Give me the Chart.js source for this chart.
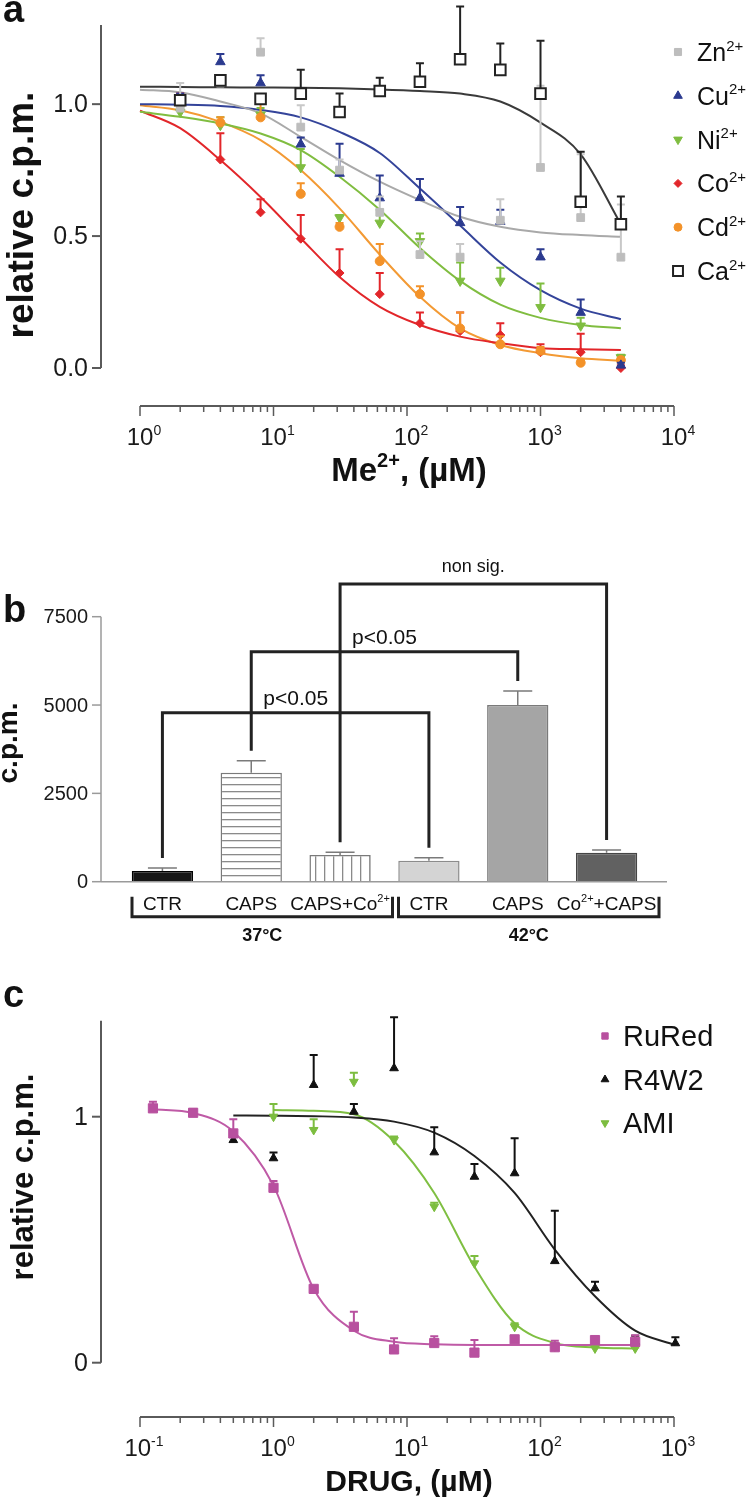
<!DOCTYPE html>
<html>
<head>
<meta charset="utf-8">
<script src="https://cdn.jsdelivr.net/npm/chart.js@4.4.1/dist/chart.umd.min.js"></script>
<style>
  body { margin: 0; background: #fff; }
  #wrap { position: relative; width: 756px; height: 1497px; }
  #wrap canvas { position: absolute; left: 0; top: 0; }
</style>
</head>
<body>
<div id="wrap">
  <canvas id="chartA" width="756" height="1497"></canvas>
  <canvas id="chartB" width="756" height="1497"></canvas>
  <canvas id="chartC" width="756" height="1497"></canvas>
</div>
<script>
// three panels: a) metal ion dose-response, b) c.p.m. bars, c) drug dose-response

const FONT = '"Liberation Sans", Arial, Helvetica, sans-serif';
const H = 1497;

// ---- panel a data ----
const doseA = [2, 4, 8, 16, 31.25, 62.5, 125, 250, 500, 1000, 2000, 4000];
const fitDoseA = [1, 2, 4, 8, 16, 31.25, 62.5, 125, 250, 500, 1000, 2000, 4000];
const xExpA = [0, 1, 2, 3, 4];
const yTicksA = [0, 0.5, 1];
const yLabelsA = ['0.0', '0.5', '1.0'];

const znVals = [0.985, 1.08, 1.197, 0.913, 0.75, 0.59, 0.43, 0.42, 0.56, 0.76, 0.57, 0.42];
const znErr  = [1.08, 1.09, 1.25, 0.996, 0.79, 0.65, 0.48, 0.47, 0.64, 1.07, 0.81, 0.62];
const cuVals = [1.01, 1.16, 1.08, 0.848, 0.737, 0.644, 0.645, 0.55, 0.555, 0.42, 0.21, 0.01];
const cuErr  = [1.04, 1.19, 1.11, 0.874, 0.85, 0.73, 0.716, 0.61, 0.60, 0.45, 0.26, 0.02];
const niVals = [0.97, 0.92, 0.96, 0.76, 0.57, 0.55, 0.48, 0.33, 0.33, 0.23, 0.16, 0.04];
const niErr  = [0.99, 0.95, 0.985, 0.83, 0.58, 0.6, 0.51, 0.40, 0.38, 0.32, 0.19, 0.05];
const coVals = [1.0, 0.79, 0.59, 0.49, 0.36, 0.28, 0.17, 0.14, 0.125, 0.06, 0.06, 0.0];
const coErr  = [1.04, 0.89, 0.64, 0.58, 0.45, 0.36, 0.21, 0.21, 0.17, 0.09, 0.13, 0.01];
const cdVals = [1.0, 0.93, 0.95, 0.66, 0.535, 0.405, 0.28, 0.15, 0.09, 0.065, 0.02, 0.03];
const cdErr  = [1.02, 0.95, 1.01, 0.70, 0.55, 0.47, 0.31, 0.21, 0.12, 0.08, 0.03, 0.04];
const caVals = [1.015, 1.09, 1.02, 1.04, 0.97, 1.05, 1.085, 1.17, 1.13, 1.04, 0.63, 0.545];
const caErr  = [1.03, 1.10, 1.03, 1.13, 1.04, 1.10, 1.155, 1.37, 1.23, 1.24, 0.82, 0.65];

const znFit = [1.055, 1.045, 1.01, 0.965, 0.876, 0.788, 0.706, 0.636, 0.573, 0.535, 0.514, 0.504, 0.497];
const cuFit = [1.0, 0.998, 0.993, 0.978, 0.95, 0.895, 0.815, 0.68, 0.54, 0.40, 0.295, 0.225, 0.185];
const niFit = [0.971, 0.952, 0.927, 0.889, 0.826, 0.725, 0.6, 0.455, 0.33, 0.24, 0.19, 0.163, 0.151];
const coFit = [0.975, 0.909, 0.788, 0.648, 0.492, 0.345, 0.232, 0.163, 0.119, 0.094, 0.075, 0.071, 0.068];
const cdFit = [0.996, 0.977, 0.933, 0.864, 0.75, 0.605, 0.43, 0.27, 0.15, 0.087, 0.056, 0.037, 0.028];
const caFit = [1.066, 1.065, 1.064, 1.063, 1.062, 1.06, 1.056, 1.05, 1.04, 1.01, 0.93, 0.81, 0.545];

const ionNames = ['Zn{2+}', 'Cu{2+}', 'Ni{2+}', 'Co{2+}', 'Cd{2+}', 'Ca{2+}'];

// ---- panel b data ----
const barLabels = ['CTR', 'CAPS', 'CAPS+Co{2+}', 'CTR', 'CAPS', 'Co{2+}+CAPS'];
const cpmMeans = [303, 3085, 755, 595, 5000, 822];
const cpmErr = [388, 3425, 832, 680, 5397, 897];
const yTicksB = [0, 2500, 5000, 7500];
const tempGroups = [['37°C', 0, 2], ['42°C', 3, 5]];
const comparisons = [[0, 3, 4784, 'p<0.05'], [1, 4, 6510, 'p<0.05'], [2, 5, 8426, 'non sig.']];

// ---- panel c data ----
const doseC = [0.125, 0.25, 0.5, 1, 2, 4, 8, 16, 32, 64, 128, 256, 512, 1024];
const xExpC = [-1, 0, 1, 2, 3];
const yTicksC = [0, 1];
const yLabelsC = ['0', '1'];

const ruredVals = [1.034, 1.016, 0.932, 0.711, 0.30, 0.146, 0.054, 0.08, 0.041, 0.095, 0.063, 0.092, 0.085, null];
const ruredErr  = [1.061, 1.03, 0.99, 0.739, 0.31, 0.207, 0.099, 0.108, 0.092, 0.105, 0.089, 0.10, 0.112, null];
const r4w2Vals  = [null, null, 0.905, 0.831, 1.129, 1.02, 1.197, 0.855, 0.756, 0.77, 0.413, 0.302, 0.085, 0.079];
const r4w2Err   = [null, null, 0.92, 0.854, 1.251, 1.052, 1.404, 0.957, 0.808, 0.912, 0.618, 0.329, 0.11, 0.103];
const amiVals   = [null, null, null, 1.0, 0.946, 1.142, 0.905, 0.634, 0.404, 0.146, 0.065, 0.058, 0.058, null];
const amiErr    = [null, null, null, 1.052, 0.99, 1.179, 0.92, 0.65, 0.434, 0.16, 0.07, 0.065, 0.062, null];

const ruredFitDose = [0.125, 0.25, 0.5, 1, 2, 4, 8, 16, 32, 64, 128, 256, 512];
const ruredFit = [1.03, 1.015, 0.94, 0.72, 0.30, 0.13, 0.085, 0.075, 0.072, 0.072, 0.072, 0.072, 0.072];
const r4w2FitDose = [0.5, 1, 2, 4, 8, 16, 32, 64, 128, 256, 512, 1024];
const r4w2Fit = [1.005, 1.004, 1.002, 0.997, 0.98, 0.935, 0.84, 0.69, 0.46, 0.27, 0.13, 0.072];
const amiFitDose = [1, 2, 4, 8, 16, 32, 64, 128, 256, 512];
const amiFit = [1.027, 1.024, 1.01, 0.9, 0.69, 0.39, 0.16, 0.08, 0.062, 0.058];

const drugNames = ['RuRed', 'R4W2', 'AMI'];

// ---- helpers ----
function setFont(ctx, size, bold) {
    ctx.font = (bold ? 'bold ' : '') + size + 'px ' + FONT;
}

// text with {superscript} parts
function drawRich(ctx, str, x, y, size, bold, align) {
    const parts = str.split(/\{([^}]*)\}/);
    const supSize = Math.round(size * 0.6);
    let w = 0;
    parts.forEach((p, i) => { setFont(ctx, i % 2 ? supSize : size, bold); w += ctx.measureText(p).width; });
    let cx = align === 'center' ? x - w / 2 : (align === 'right' ? x - w : x);
    ctx.textAlign = 'left';
    ctx.textBaseline = 'alphabetic';
    parts.forEach((p, i) => {
        const sup = i % 2 === 1;
        setFont(ctx, sup ? supSize : size, bold);
        ctx.fillText(p, cx, sup ? y - size * 0.42 : y);
        cx += ctx.measureText(p).width;
    });
}

function drawRotated(ctx, text, x, y, size) {
    ctx.save();
    ctx.translate(x, y);
    ctx.rotate(-Math.PI / 2);
    setFont(ctx, size, true);
    ctx.textAlign = 'center';
    ctx.textBaseline = 'alphabetic';
    ctx.fillText(text, 0, 0);
    ctx.restore();
}

function line(ctx, x1, y1, x2, y2) {
    ctx.beginPath();
    ctx.moveTo(x1, y1);
    ctx.lineTo(x2, y2);
    ctx.stroke();
}

function drawYAxis(chart, xPix, vmin, vmax, ticks, labels, size, color, width) {
    const ctx = chart.ctx, ys = chart.scales.y;
    ctx.save();
    ctx.strokeStyle = color;
    ctx.lineWidth = width;
    line(ctx, xPix, ys.getPixelForValue(vmin), xPix, ys.getPixelForValue(vmax));
    ctx.fillStyle = '#1a1a1a';
    setFont(ctx, size, false);
    ctx.textAlign = 'right';
    ctx.textBaseline = 'middle';
    ticks.forEach((t, i) => {
        const py = ys.getPixelForValue(t);
        line(ctx, xPix - 9, py, xPix, py);
        ctx.fillText(labels[i], xPix - 13, py + 1);
    });
    ctx.restore();
}

function drawLogAxis(chart, yPix, exps, size) {
    const ctx = chart.ctx, xs = chart.scales.x;
    const lo = exps[0], hi = exps[exps.length - 1];
    ctx.save();
    ctx.strokeStyle = '#5a5a5a';
    ctx.lineWidth = 2;
    line(ctx, xs.getPixelForValue(Math.pow(10, lo)), yPix, xs.getPixelForValue(Math.pow(10, hi)), yPix);
    ctx.lineWidth = 1.5;
    for (let e = lo; e < hi; e++) {
        for (let k = 2; k <= 9; k++) {
            const px = xs.getPixelForValue(k * Math.pow(10, e));
            line(ctx, px, yPix, px, yPix + 6);
        }
    }
    ctx.fillStyle = '#1a1a1a';
    exps.forEach(e => {
        const px = xs.getPixelForValue(Math.pow(10, e));
        line(ctx, px, yPix, px, yPix + 10);
        drawRich(ctx, '10{' + e + '}', px + 4, yPix + 39, size, false, 'center');
    });
    ctx.restore();
}

function legendMarker(ctx, s, x, y, r) {
    ctx.save();
    ctx.fillStyle = s.fill || s.color;
    ctx.strokeStyle = s.color;
    const opts = { pointStyle: s.shape, radius: r, rotation: s.rot || 0, borderWidth: s.fill ? 2 : 1 };
    ctx.lineWidth = opts.borderWidth;
    if (Chart.helpers && Chart.helpers.drawPoint) {
        Chart.helpers.drawPoint(ctx, opts, x, y);
    } else {
        ctx.fillRect(x - r * 0.7, y - r * 0.7, r * 1.4, r * 1.4);
    }
    ctx.restore();
}

// upper error bars, drawn under the markers
const errorBars = {
    id: 'errorBars',
    beforeDatasetDraw(chart, args) {
        const ds = chart.data.datasets[args.index];
        if (!ds.errTop) return;
        const ctx = chart.ctx, ys = chart.scales.y;
        const cap = ds.errCap || 4;
        ctx.save();
        ctx.strokeStyle = ds.errColor;
        ctx.lineWidth = ds.errWidth || 2;
        args.meta.data.forEach((el, i) => {
            const d = ds.data[i];
            const v = (d !== null && typeof d === 'object') ? d.y : d;
            const top = ds.errTop[i];
            if (v == null || top == null) return;
            const yTop = ys.getPixelForValue(top);
            const yBase = ys.getPixelForValue(v);
            ctx.beginPath();
            ctx.moveTo(el.x, yBase);
            ctx.lineTo(el.x, yTop);
            ctx.moveTo(el.x - cap, yTop);
            ctx.lineTo(el.x + cap, yTop);
            ctx.stroke();
        });
        ctx.restore();
    }
};

function xy(xs, ys) {
    return xs.map((x, i) => ({ x: x, y: ys[i] }));
}

// ================= panel a =================
const ionStyles = [
    { color: '#bdbdbd', err: '#c8c8c8', line: '#a9a9a9', shape: 'rect', r: 5.5, order: 1 },
    { color: '#2b3a8f', err: '#2b3a8f', line: '#34449a', shape: 'triangle', r: 5.5, order: 2 },
    { color: '#7fbd40', err: '#7fbd40', line: '#80bd40', shape: 'triangle', r: 5.5, rot: 180, order: 5 },
    { color: '#e2262a', err: '#e2262a', line: '#e2262a', shape: 'rectRot', r: 4.5, order: 4 },
    { color: '#f39229', err: '#f39229', line: '#f39a34', shape: 'circle', r: 4.5, order: 3 },
    { color: '#222222', err: '#222222', line: '#3a3a3a', shape: 'rect', r: 7.5, order: 0, fill: '#ffffff' }
];
const ionVals = [znVals, cuVals, niVals, coVals, cdVals, caVals];
const ionErrs = [znErr, cuErr, niErr, coErr, cdErr, caErr];
const ionFits = [znFit, cuFit, niFit, coFit, cdFit, caFit];

const datasetsA = [];
ionNames.forEach((name, i) => {
    const s = ionStyles[i];
    datasetsA.push({
        type: 'line', data: xy(fitDoseA, ionFits[i]),
        borderColor: s.line, borderWidth: 2, pointRadius: 0,
        cubicInterpolationMode: 'monotone', fill: false, clip: false, order: 10 + i
    });
    datasetsA.push({
        type: 'scatter', data: xy(doseA, ionVals[i]),
        errTop: ionErrs[i], errColor: s.err, errWidth: 2,
        pointStyle: s.shape, pointRadius: s.r, pointRotation: s.rot || 0,
        backgroundColor: s.fill || s.color, borderColor: s.color,
        borderWidth: s.fill ? 2 : 1, clip: false, order: s.order
    });
});

const panelA = {
    id: 'panelA',
    afterDraw(chart) {
        const ctx = chart.ctx;
        drawYAxis(chart, 101, 0, 1.3, yTicksA, yLabelsA, 25, '#5a5a5a', 2);
        drawLogAxis(chart, 406, xExpA, 24);
        ctx.save();
        ctx.fillStyle = '#111';
        drawRich(ctx, 'Me{2+}, (µM)', 409, 481, 33, true, 'center');
        drawRotated(ctx, 'relative c.p.m.', 33, 215, 37);
        setFont(ctx, 38, true);
        ctx.textAlign = 'left';
        ctx.fillText('a', 3, 22);
        ionNames.forEach((name, i) => {
            const y = 52 + i * 43.8;
            legendMarker(ctx, ionStyles[i], 678, y, ionStyles[i].r - 0.5);
            ctx.fillStyle = '#111';
            drawRich(ctx, name, 697, y + 9, 25, false, 'left');
        });
        ctx.restore();
    }
};

new Chart(document.getElementById('chartA'), {
    type: 'scatter',
    data: { datasets: datasetsA },
    options: {
        responsive: false,
        animation: false,
        events: [],
        layout: { padding: { left: 140, right: 82, top: 25, bottom: H - 368 } },
        scales: {
            x: { type: 'logarithmic', min: 1, max: 10000, display: false },
            y: { type: 'linear', min: 0, max: 1.3, display: false }
        },
        plugins: { legend: { display: false }, tooltip: { enabled: false } }
    },
    plugins: [errorBars, panelA]
});

// ================= panel b =================
function stripes(vertical, step) {
    const c = document.createElement('canvas');
    c.width = vertical ? step : 4;
    c.height = vertical ? 4 : step;
    const g = c.getContext('2d');
    g.fillStyle = '#ffffff';
    g.fillRect(0, 0, c.width, c.height);
    g.fillStyle = '#8a8a8a';
    if (vertical) g.fillRect(0, 0, 1.3, c.height);
    else g.fillRect(0, 0, c.width, 1.3);
    return document.createElement('canvas').getContext('2d').createPattern(c, 'repeat');
}

const barFills = ['#171717', stripes(false, 7.3), stripes(true, 9), '#d4d4d4', '#a5a5a5', '#616161'];
const barEdges = ['#000000', '#7a7a7a', '#7a7a7a', '#8c8c8c', '#7a7a7a', '#454545'];

const panelB = {
    id: 'panelB',
    afterDraw(chart) {
        const ctx = chart.ctx, xs = chart.scales.x, ys = chart.scales.y;
        const area = chart.chartArea;
        const catW = (area.right - area.left) / barLabels.length;
        const y0 = ys.getPixelForValue(0);
        ctx.save();
        drawYAxis(chart, 101, 0, 7500, yTicksB, yTicksB.map(String), 20, '#9a9a9a', 1.5);
        ctx.strokeStyle = '#9a9a9a';
        ctx.lineWidth = 1.5;
        line(ctx, 101, y0, area.right + 16, y0);

        ctx.fillStyle = '#111';
        barLabels.forEach((lab, i) => {
            drawRich(ctx, lab, xs.getPixelForValue(i), y0 + 28, 19, false, 'center');
        });

        // temperature groups
        ctx.strokeStyle = '#222';
        ctx.lineWidth = 3;
        tempGroups.forEach(([lab, a, b]) => {
            const left = xs.getPixelForValue(a) - catW / 2 + 14;
            const right = xs.getPixelForValue(b) + catW / 2 + 8;
            const yb = y0 + 35;
            ctx.beginPath();
            ctx.moveTo(left, y0 + 15);
            ctx.lineTo(left, yb);
            ctx.lineTo(right, yb);
            ctx.lineTo(right, y0 + 15);
            ctx.stroke();
            drawRich(ctx, lab, (left + right) / 2, y0 + 59, 18, true, 'center');
        });

        // significance brackets
        ctx.lineJoin = 'miter';
        comparisons.forEach(([a, b, level, lab]) => {
            const xa = xs.getPixelForValue(a), xb = xs.getPixelForValue(b);
            const yl = ys.getPixelForValue(level);
            ctx.beginPath();
            ctx.moveTo(xa, ys.getPixelForValue(cpmErr[a]) - 10);
            ctx.lineTo(xa, yl);
            ctx.lineTo(xb, yl);
            ctx.lineTo(xb, ys.getPixelForValue(cpmErr[b]) - 10);
            ctx.stroke();
            drawRich(ctx, lab, (xa + xb) / 2, yl - (lab === 'non sig.' ? 12 : 8), lab === 'non sig.' ? 18 : 21, false, 'center');
        });

        drawRotated(ctx, 'c.p.m.', 17, 743, 28);
        setFont(ctx, 38, true);
        ctx.textAlign = 'left';
        ctx.fillText('b', 3, 622);
        ctx.restore();
    }
};

new Chart(document.getElementById('chartB'), {
    type: 'bar',
    data: {
        labels: barLabels,
        datasets: [{
            data: cpmMeans,
            backgroundColor: barFills,
            borderColor: barEdges,
            borderWidth: 1.5,
            barPercentage: 0.69,
            categoryPercentage: 1,
            errTop: cpmErr, errColor: '#7a7a7a', errWidth: 1.5, errCap: 14.5
        }]
    },
    options: {
        responsive: false,
        animation: false,
        events: [],
        layout: { padding: { left: 118, right: 105, top: 616.7, bottom: H - 881.7 } },
        scales: {
            x: { display: false },
            y: { min: 0, max: 7500, display: false }
        },
        plugins: { legend: { display: false }, tooltip: { enabled: false } }
    },
    plugins: [errorBars, panelB]
});

// ================= panel c =================
const drugStyles = [
    { color: '#b8509f', line: '#bf5aa6', shape: 'rect', r: 6.5, order: 0 },
    { color: '#111111', line: '#222222', shape: 'triangle', r: 5, order: 1 },
    { color: '#7cbd3f', line: '#7fbf42', shape: 'triangle', r: 5, rot: 180, order: 2 }
];
const drugVals = [ruredVals, r4w2Vals, amiVals];
const drugErrs = [ruredErr, r4w2Err, amiErr];
const drugFits = [xy(ruredFitDose, ruredFit), xy(r4w2FitDose, r4w2Fit), xy(amiFitDose, amiFit)];

const datasetsC = [];
drugNames.forEach((name, i) => {
    const s = drugStyles[i];
    datasetsC.push({
        type: 'line', data: drugFits[i],
        borderColor: s.line, borderWidth: 2, pointRadius: 0,
        cubicInterpolationMode: 'monotone', fill: false, clip: false, order: 10 + i
    });
    datasetsC.push({
        type: 'scatter', data: xy(doseC, drugVals[i]),
        errTop: drugErrs[i], errColor: s.color, errWidth: 2,
        pointStyle: s.shape, pointRadius: s.r, pointRotation: s.rot || 0,
        backgroundColor: s.color, borderColor: s.color, borderWidth: 1,
        clip: false, order: s.order
    });
});

const panelC = {
    id: 'panelC',
    afterDraw(chart) {
        const ctx = chart.ctx;
        drawYAxis(chart, 101, 0, 1.39, yTicksC, yLabelsC, 25, '#5a5a5a', 2);
        drawLogAxis(chart, 1417, xExpC, 24);
        ctx.save();
        ctx.fillStyle = '#111';
        drawRich(ctx, 'DRUG, (µM)', 409, 1491, 30, true, 'center');
        drawRotated(ctx, 'relative c.p.m.', 33, 1177, 31);
        setFont(ctx, 38, true);
        ctx.textAlign = 'left';
        ctx.fillText('c', 3, 1007);
        drugNames.forEach((name, i) => {
            const y = 1036 + i * 43.5;
            legendMarker(ctx, drugStyles[i], 605, y, 4.5);
            ctx.fillStyle = '#111';
            drawRich(ctx, name, 623, y + 10, 29, false, 'left');
        });
        ctx.restore();
    }
};

new Chart(document.getElementById('chartC'), {
    type: 'scatter',
    data: { datasets: datasetsC },
    options: {
        responsive: false,
        animation: false,
        events: [],
        layout: { padding: { left: 140, right: 82, top: 1362.7 - 1.39 * 246, bottom: H - 1362.7 } },
        scales: {
            x: { type: 'logarithmic', min: 0.1, max: 1000, display: false },
            y: { type: 'linear', min: 0, max: 1.39, display: false }
        },
        plugins: { legend: { display: false }, tooltip: { enabled: false } }
    },
    plugins: [errorBars, panelC]
});
</script>
</body>
</html>
